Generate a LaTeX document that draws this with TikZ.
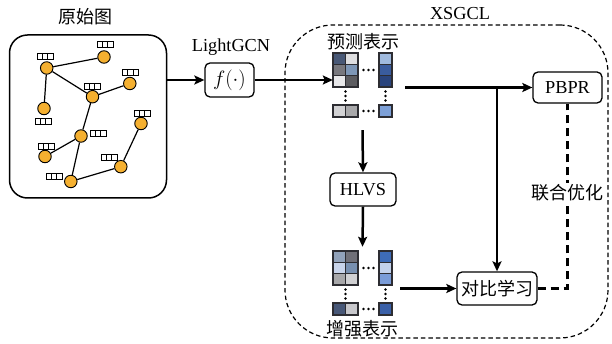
\documentclass[tikz,border=0pt]{standalone}
\usepackage{fontspec}
\newfontfamily\cjk{Noto Sans CJK SC}
\newfontfamily\lser{Liberation Serif}
\usetikzlibrary{arrows.meta}
\definecolor{gnorange}{RGB}{245,176,48}
\definecolor{cellline}{RGB}{45,45,50}
\newcommand\lat{\lser\fontsize{18.3}{20}\selectfont}
\newcommand\zh{\cjk\fontsize{18}{20}\selectfont}
\newcommand\mcell[5]{\filldraw[fill=#5, draw=cellline, line width=0.7pt] (#1,#2) rectangle (#3,#4);}
\newcommand\mydots[2]{\fill (#1,#2) circle (1.4) (#1+5,#2) circle (1.4) (#1+10,#2) circle (1.4);}
\newcommand\myvdots[2]{\fill (#1,#2) circle (1.4) (#1,#2+4.5) circle (1.4) (#1,#2+9) circle (1.4);}
% matrix drawn with top at y offset #1; colours ca..cl
\newcommand\drawmatrix[1]{%
\begin{scope}[shift={(0,#1)}]
\mcell{333}{0}{345.5}{11.33}{ca}\mcell{345.5}{0}{358}{11.33}{cb}
\mcell{333}{11.33}{345.5}{22.67}{cc}\mcell{345.5}{11.33}{358}{22.67}{cd}
\mcell{333}{22.67}{345.5}{34}{ce}\mcell{345.5}{22.67}{358}{34}{cf}
\mcell{379}{0}{392}{11.33}{cg}\mcell{379}{11.33}{392}{22.67}{ch}\mcell{379}{22.67}{392}{34}{ci}
\mcell{333}{52}{345.5}{64}{cj}\mcell{345.5}{52}{358}{64}{ck}\mcell{379}{52}{392}{64}{cl}
\draw[draw=cellline, line width=1.4pt] (333,0) rectangle (358,34) (379,0) rectangle (392,34)
  (333,52) rectangle (358,64) (379,52) rectangle (392,64);
\mydots{363.5}{17}\mydots{363.5}{58}
\myvdots{345.5}{38.5}\myvdots{385.5}{38.5}
\end{scope}}
\tikzset{
  gnode/.style={circle, draw=black, line width=0.9pt, fill=gnorange, minimum size=12.5pt, inner sep=0pt},
  gedge/.style={line width=1.2pt},
  idtag/.pic={\foreach \i in {0,1,2}{\draw[line width=0.9pt, fill=white] (-8+\i*5.33,-3) rectangle ++(5.33,6);}},
  procbox/.style={draw, rounded corners=5pt, line width=1.3pt, inner sep=0pt, font=\lat},
  arr/.style={line width=2.5pt, -{Stealth[length=10pt,width=9pt,inset=2pt]}},
  thickdash/.style={line width=2.6pt, dash pattern=on 8pt off 5pt},
}
\begin{document}
\begin{tikzpicture}[x=1pt,y=-1pt]
\useasboundingbox (0,0) rectangle (612,344);
% left graph box
\node[font=\zh] (origt) at (85,17) {原始图};
\node[draw, rounded corners=18pt, line width=1.5pt, minimum width=157pt, minimum height=163pt, inner sep=0pt] (orig) at (88,116.5) {};
\node[gnode] (A) at (46.7,68) {};
\node[gnode] (B) at (104,57) {};
\node[gnode] (C) at (92.5,96.7) {};
\node[gnode] (D) at (129.8,83.5) {};
\node[gnode] (E) at (44,108.5) {};
\node[gnode] (F) at (81,136) {};
\node[gnode] (G) at (45,156.5) {};
\node[gnode] (H) at (141,123.5) {};
\node[gnode] (I) at (120.8,166.7) {};
\node[gnode] (J) at (70.8,181.5) {};
\draw[gedge] (A) -- (B) (A) -- (C) (A) -- (E) (C) -- (D) (C) -- (F) (F) -- (G) (F) -- (J) (J) -- (I) (I) -- (H);
\pic at (45,56) {idtag};
\pic at (105,44.5) {idtag};
\pic at (92,86) {idtag};
\pic at (130.5,72) {idtag};
\pic at (43,121) {idtag};
\pic at (98,133) {idtag};
\pic at (46,146) {idtag};
\pic at (142,113) {idtag};
\pic at (109,157) {idtag};
\pic at (54,176) {idtag};
% LightGCN
\node[font=\lat] (lgcn) at (231,47) {LightGCN};
\node[procbox, minimum width=49pt, minimum height=34pt, font=\fontsize{21}{24}\selectfont] (f) at (229.5,80) {$f(\cdot)$};
\draw[arr] (orig.east |- f) -- (f.west);
% XSGCL region
\node[draw, dash pattern=on 4.5pt off 3pt, line width=1.2pt, rounded corners=48pt, minimum width=323pt, minimum height=313pt, inner sep=0pt] (xs) at (446.5,181.5) {};
\node[font=\lat] (xst) at (460,14) {XSGCL};
% matrices
\colorlet{ca}{rgb,255:red,72;green,88;blue,118}
\colorlet{cb}{rgb,255:red,222;green,222;blue,224}
\colorlet{cc}{rgb,255:red,120;green,120;blue,126}
\colorlet{cd}{rgb,255:red,125;green,150;blue,182}
\colorlet{ce}{rgb,255:red,232;green,232;blue,234}
\colorlet{cf}{rgb,255:red,92;green,92;blue,96}
\colorlet{cg}{rgb,255:red,160;green,186;blue,222}
\colorlet{ch}{rgb,255:red,58;green,92;blue,158}
\colorlet{ci}{rgb,255:red,42;green,68;blue,125}
\colorlet{cj}{rgb,255:red,210;green,210;blue,212}
\colorlet{ck}{rgb,255:red,168;green,168;blue,170}
\colorlet{cl}{rgb,255:red,125;green,160;blue,215}
\drawmatrix{53}
\colorlet{ca}{rgb,255:red,145;green,162;blue,186}
\colorlet{cb}{rgb,255:red,112;green,112;blue,120}
\colorlet{cc}{rgb,255:red,200;green,212;blue,234}
\colorlet{cd}{rgb,255:red,120;green,144;blue,176}
\colorlet{ce}{rgb,255:red,168;green,168;blue,170}
\colorlet{cf}{rgb,255:red,208;green,208;blue,210}
\colorlet{cg}{rgb,255:red,62;green,108;blue,184}
\colorlet{ch}{rgb,255:red,195;green,210;blue,236}
\colorlet{ci}{rgb,255:red,122;green,156;blue,216}
\colorlet{cj}{rgb,255:red,72;green,88;blue,120}
\colorlet{ck}{rgb,255:red,200;green,200;blue,204}
\colorlet{cl}{rgb,255:red,58;green,96;blue,168}
\drawmatrix{251}
\node[minimum width=59pt, minimum height=64pt, inner sep=0pt] (pred) at (362.5,85) {};
\node[minimum width=59pt, minimum height=64pt, inner sep=0pt] (aug) at (362.5,283) {};
\node[font=\zh] (predt) at (363,42) {预测表示};
\node[font=\zh] (augt) at (362,329) {增强表示};
% boxes
\node[procbox, minimum width=66pt, minimum height=33pt] (hlvs) at (363,189.5) {HLVS};
\node[procbox, minimum width=69pt, minimum height=31pt] (pbpr) at (567.5,87.5) {PBPR};
\node[procbox, minimum width=80pt, minimum height=33pt, font=\zh] (cl) at (497,288.5) {对比学习};
% connectors
\draw[arr] (f.east) -- (f.east -| pred.west);
\draw[arr] ([yshift=-13pt]pred.south) -- (hlvs.north);
\draw[arr] (hlvs.south) -- ([yshift=4pt]aug.north);
\draw[line width=2.5pt] ([xshift=13pt]pred.east |- pbpr.west) -- (cl.north |- pbpr.west);
\draw[arr] (cl.north |- pbpr.west) -- (pbpr.west);
\draw[arr] (cl.north |- pbpr.west) -- (cl.north);
\draw[arr] ([xshift=8pt]aug.east |- cl.west) -- (cl.west);
\draw[thickdash] (cl.east) -| (pbpr.south);
\node[font=\zh, fill=white, inner sep=2pt] (joint) at (567.5,193) {联合优化};
\end{tikzpicture}
\end{document}
